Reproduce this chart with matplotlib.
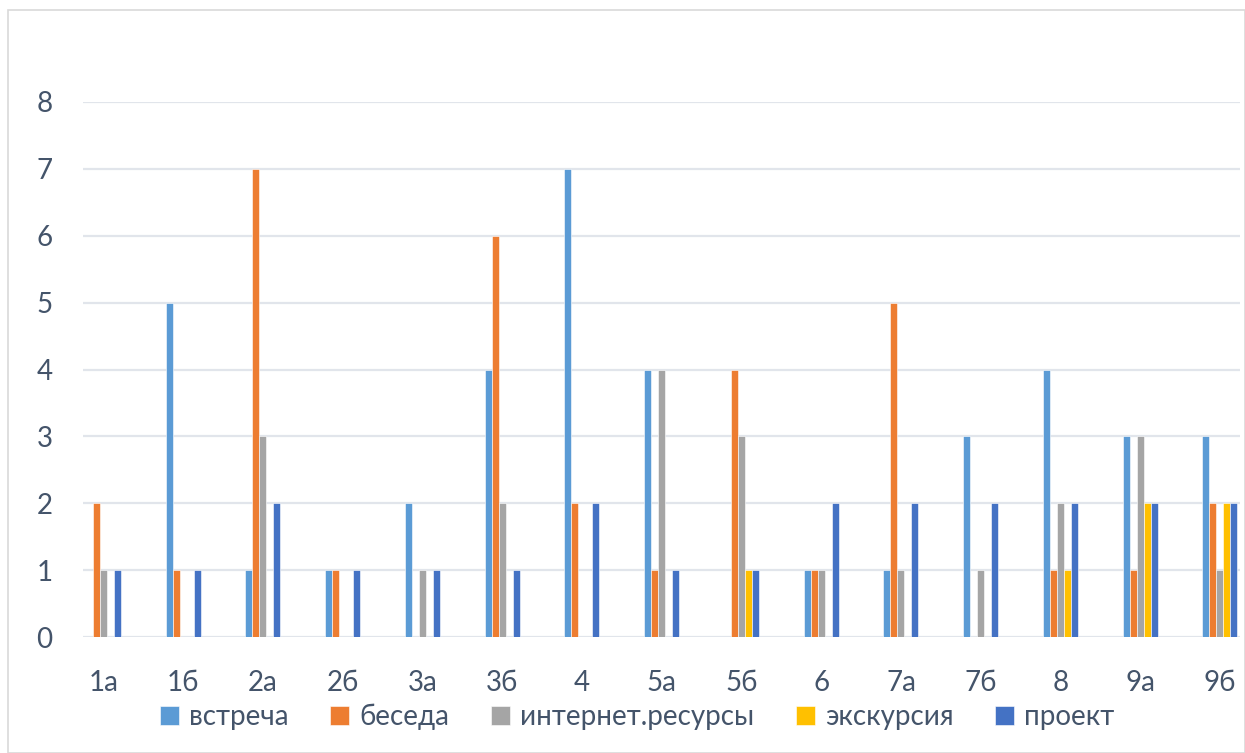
import matplotlib
matplotlib.use("Agg")
import matplotlib.pyplot as plt
import numpy as np
from matplotlib.patches import Rectangle

plt.rcParams['font.family'] = ['Lato', 'DejaVu Sans']

categories = ['1а', '1б', '2а', '2б', '3а', '3б', '4', '5а', '5б', '6', '7а', '7б', '8', '9а', '9б']
series_names = ['встреча', 'беседа', 'интернет.ресурсы', 'экскурсия', 'проект']
vstrecha   = [0, 5, 1, 1, 2, 4, 7, 4, 0, 1, 1, 3, 4, 3, 3]
beseda     = [2, 1, 7, 1, 0, 6, 2, 1, 4, 1, 5, 0, 1, 1, 2]
internet   = [1, 0, 3, 0, 1, 2, 0, 4, 3, 1, 1, 1, 2, 3, 1]
ekskursiya = [0, 0, 0, 0, 0, 0, 0, 0, 1, 0, 0, 0, 1, 2, 2]
proekt     = [1, 1, 2, 1, 1, 1, 2, 1, 1, 2, 2, 2, 2, 2, 2]
series = [vstrecha, beseda, internet, ekskursiya, proekt]
colors = ['#5B9BD5', '#ED7D31', '#A5A5A5', '#FFC000', '#4472C4']

W, H = 1245, 753
fig = plt.figure(figsize=(W / 100, H / 100), dpi=100)
fig.patches.append(Rectangle((8 / W, 0), 1 - 8 / W, 1 - 10 / H, transform=fig.transFigure,
                             fill=False, edgecolor='#D9D9D9', linewidth=1.2))

ax = fig.add_axes([83 / W, (H - 637) / H, 1157 / W, 535 / H])
x = np.arange(len(categories))
bw = 0.0878
for k, (vals, c, name) in enumerate(zip(series, colors, series_names)):
    ax.bar(x + (k - 2) * bw, vals, width=bw, color=c, label=name,
           edgecolor='white', linewidth=0.4, zorder=3)

ax.set_xlim(-0.257, 14.251)
ax.set_ylim(0, 8)
ax.set_yticks(range(0, 9))
ax.set_xticks(x)
ax.set_xticklabels(categories)
ax.grid(axis='y', color='#E1E5EB', linewidth=1.6, zorder=0)
ax.set_axisbelow(True)
for s in ax.spines.values():
    s.set_visible(False)
txt = '#44546A'
ax.tick_params(axis='y', length=0, pad=22, labelsize=20, labelcolor=txt)
ax.tick_params(axis='x', length=0, pad=24, labelsize=20, labelcolor=txt)

leg = fig.legend(loc='center', bbox_to_anchor=(637 / W, 1 - 717 / H), ncol=5,
                 frameon=False, fontsize=20, handlelength=0.7, handleheight=0.7,
                 handletextpad=0.35, columnspacing=1.5, labelcolor=txt)

fig.savefig('out.png', dpi=100)
